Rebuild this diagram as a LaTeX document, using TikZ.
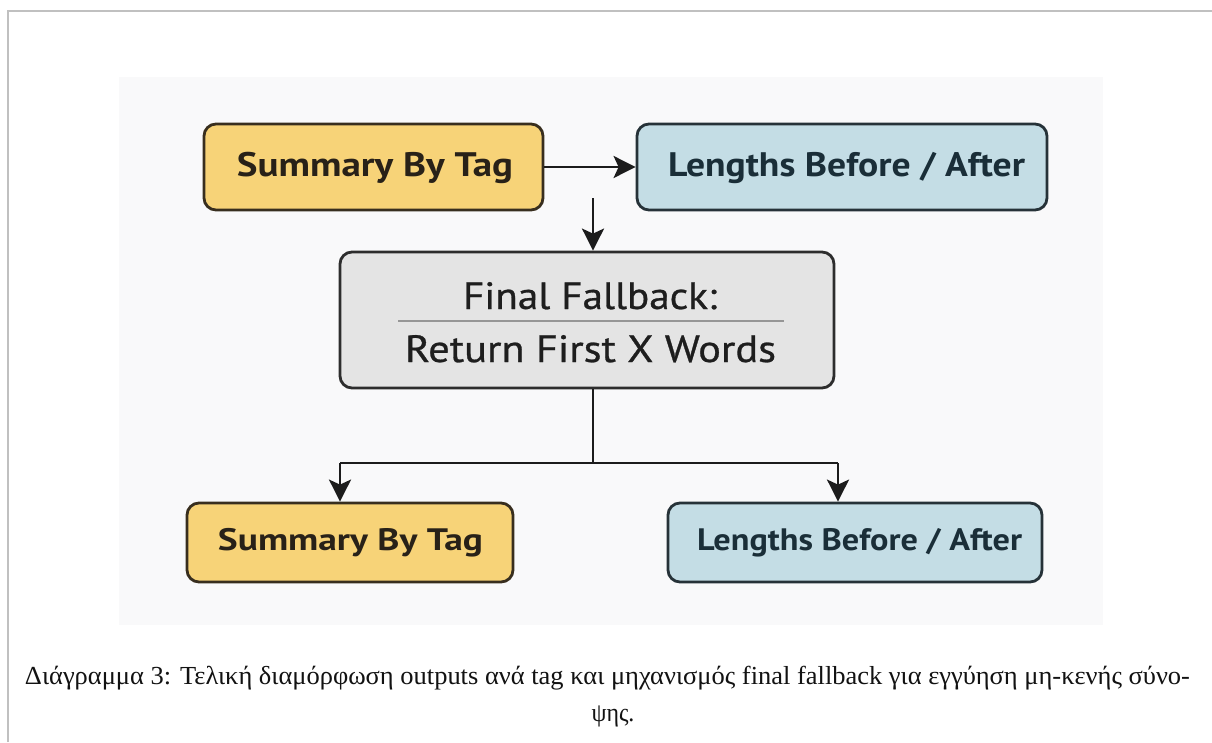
\documentclass[tikz,border=0pt]{standalone}
\usepackage{fontspec}
\usepackage{graphicx}
\setmainfont{Liberation Serif}
\newfontfamily\boxfont{PT Sans}
\newfontfamily\finfont[FakeBold=0.7]{PT Sans}
\usetikzlibrary{arrows.meta,calc}
\definecolor{bgcol}{RGB}{249,249,250}
\definecolor{framecol}{RGB}{192,192,192}
\definecolor{yfill}{RGB}{247,211,120}
\definecolor{ydraw}{RGB}{56,46,30}
\definecolor{ytext}{RGB}{40,33,24}
\definecolor{bfill}{RGB}{196,221,229}
\definecolor{bdraw}{RGB}{38,50,56}
\definecolor{btext}{RGB}{26,46,56}
\definecolor{gfill}{RGB}{228,228,228}
\definecolor{gdraw}{RGB}{45,45,45}
\definecolor{gtext}{RGB}{30,30,30}
\definecolor{divcol}{RGB}{150,150,150}
\definecolor{conncol}{RGB}{28,28,28}
\definecolor{captext}{RGB}{18,18,18}
\newcommand{\wtext}[2]{\resizebox{#1}{\height}{#2}}
\begin{document}
\begin{tikzpicture}[x=1pt,y=-1pt,
  boxbase/.style={rectangle, rounded corners=12pt, line width=2.8pt, inner sep=0pt, text depth=0pt},
  ybox/.style={boxbase, draw=ydraw, fill=yfill, text=ytext},
  bbox/.style={boxbase, draw=bdraw, fill=bfill, text=btext},
  gbox/.style={boxbase, draw=gdraw, fill=gfill, text=gtext},
  conn/.style={draw=conncol, line width=2.6pt},
  arr/.style={conn, -{Stealth[length=22pt,width=22pt,inset=5pt]}},
  bigtext/.style={font=\boxfont\bfseries\fontsize{34}{40}\selectfont, text height=24pt},
  smalltext/.style={font=\boxfont\bfseries\fontsize{31}{36}\selectfont, text height=22pt},
  fintext/.style={font=\finfont\fontsize{38}{44}\selectfont, text=gtext, inner sep=0pt},
  txt/.style={inner sep=0pt}
]
\useasboundingbox (0,0) rectangle (1212,742);
\fill[white] (0,0) rectangle (1212,742);
\fill[bgcol] (119,77) rectangle (1103,625);
\draw[framecol, line width=2pt] (8,742) -- (8,10.5) -- (1212,10.5);

% top row
\node[ybox, minimum width=339pt, minimum height=86pt] (s1) at (373.5,167) {};
\node[txt, bigtext, text=ytext] (s1t) at (375,168) {\wtext{276pt}{Summary By Tag}};
\node[bbox, minimum width=410pt, minimum height=86pt] (l1) at (842,167) {};
\node[txt, bigtext, text=btext] (l1t) at (846.5,168) {\wtext{357pt}{Lengths Before / After}};

% final fallback
\node[gbox, minimum width=494pt, minimum height=136pt] (fin) at (587,320) {};
\node[fintext, anchor=base] (fin1) at (590,309) {\wtext{254pt}{Final Fallback:}};
\node[fintext, anchor=base] (fin2) at (590.5,362) {\wtext{371pt}{Return First X Words}};
\draw[divcol, line width=1.3pt] ($(fin.center)+(-189,1)$) -- ($(fin.center)+(197,1)$);

% bottom row
\node[ybox, minimum width=326pt, minimum height=79pt] (s2) at (350,542.5) {};
\node[txt, smalltext, text=ytext] (s2t) at (350.5,542.5) {\wtext{265pt}{Summary By Tag}};
\node[bbox, minimum width=374pt, minimum height=79pt] (l2) at (855,542.5) {};
\node[txt, smalltext, text=btext] (l2t) at (859.5,542.5) {\wtext{325pt}{Lengths Before / After}};

% connectors
\draw[arr] (s1.east) -- (l1.west);
\coordinate (d0) at (593,198);
\draw[arr] (d0) -- (d0 |- fin.north);
\coordinate (j) at (593,463);
\coordinate (jl) at (340,463);
\coordinate (jr) at (838,463);
\draw[conn] (j |- fin.south) -- (j);
\draw[conn] (jl) -- (jr);
\draw[arr] (jl) -- (jl |- s2.north);
\draw[arr] (jr) -- (jr |- l2.north);

% caption
\node[anchor=base, inner sep=0pt, text=captext, font=\fontsize{26}{30}\selectfont] (cap1) at (607.5,684)
  {\resizebox{1165pt}{\height}{Διάγραμμα 3: Τελική διαμόρφωση outputs ανά tag και μηχανισμός final fallback για εγγύηση μη-κενής σύνο-}};
\node[anchor=base, inner sep=0pt, text=captext, font=\fontsize{26}{30}\selectfont] (cap2) at (613,721)
  {\scalebox{0.92}[1]{ψης.}};
\end{tikzpicture}
\end{document}
